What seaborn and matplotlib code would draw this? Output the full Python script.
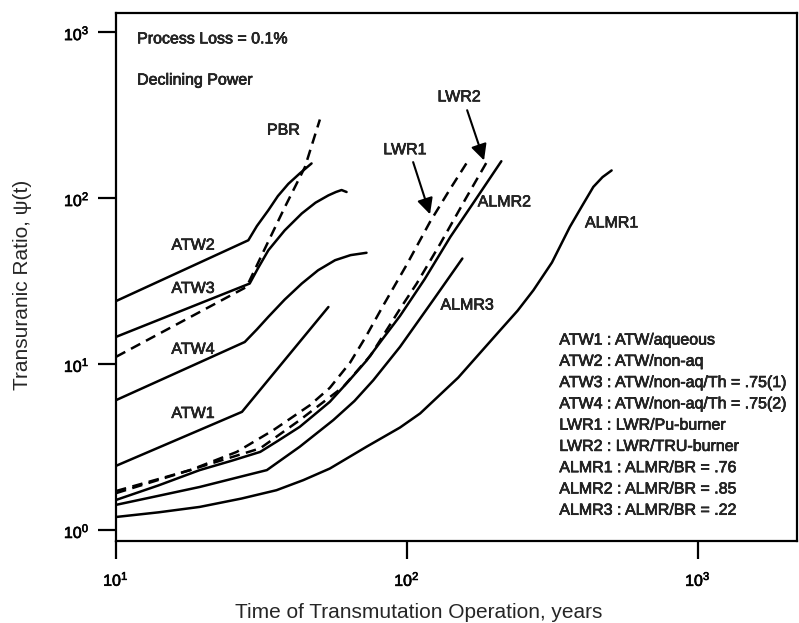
import matplotlib
matplotlib.use("Agg")
import matplotlib.pyplot as plt
import matplotlib.patheffects as pe
from matplotlib.ticker import NullLocator, LogLocator
import seaborn as sns
import pandas as pd

# ---- curve data (time in years, transuranic ratio) ----
atw1_t = [10, 27.1, 53.7]
atw1_r = [2.44, 5.16, 22.1]

atw2_t = [10, 28.5, 30.5, 33.4, 36, 39.1, 43, 47]
atw2_r = [24, 55.8, 68, 84.7, 103, 122, 142, 162]

atw3_t = [10, 28.8, 30.8, 33.4, 38, 43.5, 48.5, 53.7, 57, 59.6, 62]
atw3_r = [14.6, 30.6, 38, 48.6, 64, 80.9, 94, 104, 109, 112, 109]

atw4_t = [10, 27.7, 30.5, 33.4, 38, 43.5, 49.5, 56.6, 64, 72.6]
atw4_r = [6.07, 13.6, 16.2, 19.3, 24.5, 30.6, 36.8, 42.3, 45.4, 46.9]

pbr_t = [10, 28.1, 32.5, 38, 44.6, 50.2]
pbr_r = [11.07, 29.2, 49.8, 88, 154, 298]

lwr1_t = [10, 18, 26.0, 34.7, 46.4, 54.3, 63.7, 72, 82.8, 100, 120, 140, 160]
lwr1_r = [1.72, 2.3, 2.96, 4.0, 5.66, 7.2, 10.2, 14.5, 22.5, 40, 72, 112, 162]

lwr2_t = [10, 19.4, 31.3, 42.8, 60.4, 75, 94.6, 108, 130, 160, 188]
lwr2_r = [1.67, 2.4, 3.11, 4.6, 7.3, 11.3, 21.5, 30.6, 53, 101, 165]

almr1_t = [10, 14, 19.4, 27, 35.6, 44, 54.3, 72.6, 94.6, 111, 150, 209,
           240, 272, 315, 363, 400, 437, 470, 505]
almr1_r = [1.20, 1.28, 1.38, 1.55, 1.74, 2.0, 2.35, 3.18, 4.15, 5.05, 8.3,
           16.0, 21, 27.9, 41, 67.2, 90, 117, 134, 147]

almr2_t = [10, 14, 19.4, 25, 31.3, 36, 42.8, 48, 54.3, 63, 72.6, 83, 94.6,
           115, 141, 170, 211]
almr2_r = [1.52, 1.86, 2.30, 2.62, 2.96, 3.45, 4.19, 4.95, 5.93, 7.9, 10.5,
           14.4, 19.5, 32.5, 58.5, 95, 167]

almr3_t = [10, 14, 19.4, 28, 33, 42.8, 55.8, 66, 76.6, 94.6, 123, 155]
almr3_r = [1.42, 1.61, 1.82, 2.14, 2.30, 3.18, 4.6, 6.0, 8.0, 12.7, 24.3, 43.3]

curve_names = ["ATW1", "ATW2", "ATW3", "ATW4", "PBR",
               "LWR1", "LWR2", "ALMR1", "ALMR2", "ALMR3"]
curve_data = [(atw1_t, atw1_r), (atw2_t, atw2_r), (atw3_t, atw3_r),
              (atw4_t, atw4_r), (pbr_t, pbr_r), (lwr1_t, lwr1_r),
              (lwr2_t, lwr2_r), (almr1_t, almr1_r), (almr2_t, almr2_r),
              (almr3_t, almr3_r)]
dashed_curves = {"PBR", "LWR1", "LWR2"}

legend_lines = [
    "ATW1 : ATW/aqueous",
    "ATW2 : ATW/non-aq",
    "ATW3 : ATW/non-aq/Th = .75(1)",
    "ATW4 : ATW/non-aq/Th = .75(2)",
    "LWR1 : LWR/Pu-burner",
    "LWR2 : LWR/TRU-burner",
    "ALMR1 : ALMR/BR = .76",
    "ALMR2 : ALMR/BR = .85",
    "ALMR3 : ALMR/BR = .22",
]

# label anchor points (data coordinates)
curve_labels = {
    "ATW2": (18.4, 52.1),
    "ATW3": (18.4, 28.6),
    "ATW4": (18.4, 12.3),
    "ATW1": (18.4, 5.05),
    "PBR": (37.6, 257),
    "ALMR2": (216, 95),
    "ALMR1": (505, 71),
    "ALMR3": (161, 22.7),
}

rows = []
for name, (t, r) in zip(curve_names, curve_data):
    for ti, ri in zip(t, r):
        rows.append({"t": ti, "r": ri, "curve": name})
df = pd.DataFrame(rows)

sns.set_style("ticks")
plt.rcParams["font.family"] = ["Liberation Sans", "DejaVu Sans"]
plt.rcParams["mathtext.fontset"] = "custom"
plt.rcParams["mathtext.rm"] = "Liberation Sans"
plt.rcParams["mathtext.it"] = "Liberation Sans:italic"
plt.rcParams["mathtext.bf"] = "Liberation Sans:bold"

ink = [pe.withStroke(linewidth=0.45, foreground="black")]
FS = 11.5

W, H = 799, 623
fig = plt.figure(figsize=(W / 100, H / 100), dpi=100)
ax = fig.add_axes([116 / W, 1 - 541 / H, (797 - 116) / W, (541 - 13) / H])
ax.set_xscale("log")
ax.set_yscale("log")

for name in curve_names:
    sub = df[df["curve"] == name]
    ls = (0, (4.2, 2.6)) if name in dashed_curves else "-"
    sns.lineplot(data=sub, x="t", y="r", ax=ax, color="black",
                 linewidth=1.8, linestyle=ls, sort=False, estimator=None)

ax.set_xlim(10, 2190)
ax.set_ylim(0.86, 1306)

for name, (lx, ly) in curve_labels.items():
    ax.text(lx, ly, name, fontsize=FS, ha="center", va="center",
            path_effects=ink)

# LWR labels with arrows
ax.text(98.4, 196, "LWR1", fontsize=FS, ha="center", va="center",
        path_effects=ink)
ax.annotate("", xy=(120, 80), xytext=(105, 165),
            arrowprops=dict(arrowstyle="-|>", color="black", lw=1.5,
                            mutation_scale=24, shrinkA=0, shrinkB=0))
ax.text(151, 408, "LWR2", fontsize=FS, ha="center", va="center",
        path_effects=ink)
ax.annotate("", xy=(184, 169), xytext=(161, 339),
            arrowprops=dict(arrowstyle="-|>", color="black", lw=1.5,
                            mutation_scale=24, shrinkA=0, shrinkB=0))

ax.text(0.031, 0.951, "Process Loss = 0.1%", transform=ax.transAxes,
        fontsize=FS, ha="left", va="center", path_effects=ink)
ax.text(0.031, 0.873, "Declining Power", transform=ax.transAxes,
        fontsize=FS, ha="left", va="center", path_effects=ink)

for i, line in enumerate(legend_lines):
    ax.text(0.651, 0.3807 - i * 0.0403, line, transform=ax.transAxes,
            fontsize=FS, ha="left", va="center", path_effects=ink)

ax.xaxis.set_major_locator(LogLocator(base=10, numticks=10))
ax.yaxis.set_major_locator(LogLocator(base=10, numticks=10))
ax.xaxis.set_minor_locator(NullLocator())
ax.yaxis.set_minor_locator(NullLocator())
ax.tick_params(which="major", direction="out", length=13, width=1.6,
               labelsize=11.5, colors="black")
ax.tick_params(axis="x", pad=8)
ax.tick_params(axis="y", pad=6)
for lab in ax.get_xticklabels() + ax.get_yticklabels():
    lab.set_path_effects(ink)

for side in ["left", "right", "top", "bottom"]:
    ax.spines[side].set_visible(True)
    ax.spines[side].set_linewidth(1.6)
    ax.spines[side].set_color("black")

ax.set_xlabel("Time of Transmutation Operation, years", fontsize=15)
ax.set_ylabel("Transuranic Ratio, \u03c8(t)", fontsize=15)
ax.xaxis.label.set_va("center")
ax.yaxis.label.set_va("center")
ax.xaxis.set_label_coords((419 - 116) / 681, -(613 - 541) / 528)
ax.yaxis.set_label_coords((23 - 116) / 681, 1 - (285 - 13) / 528)

fig.savefig("out.png", dpi=100)
